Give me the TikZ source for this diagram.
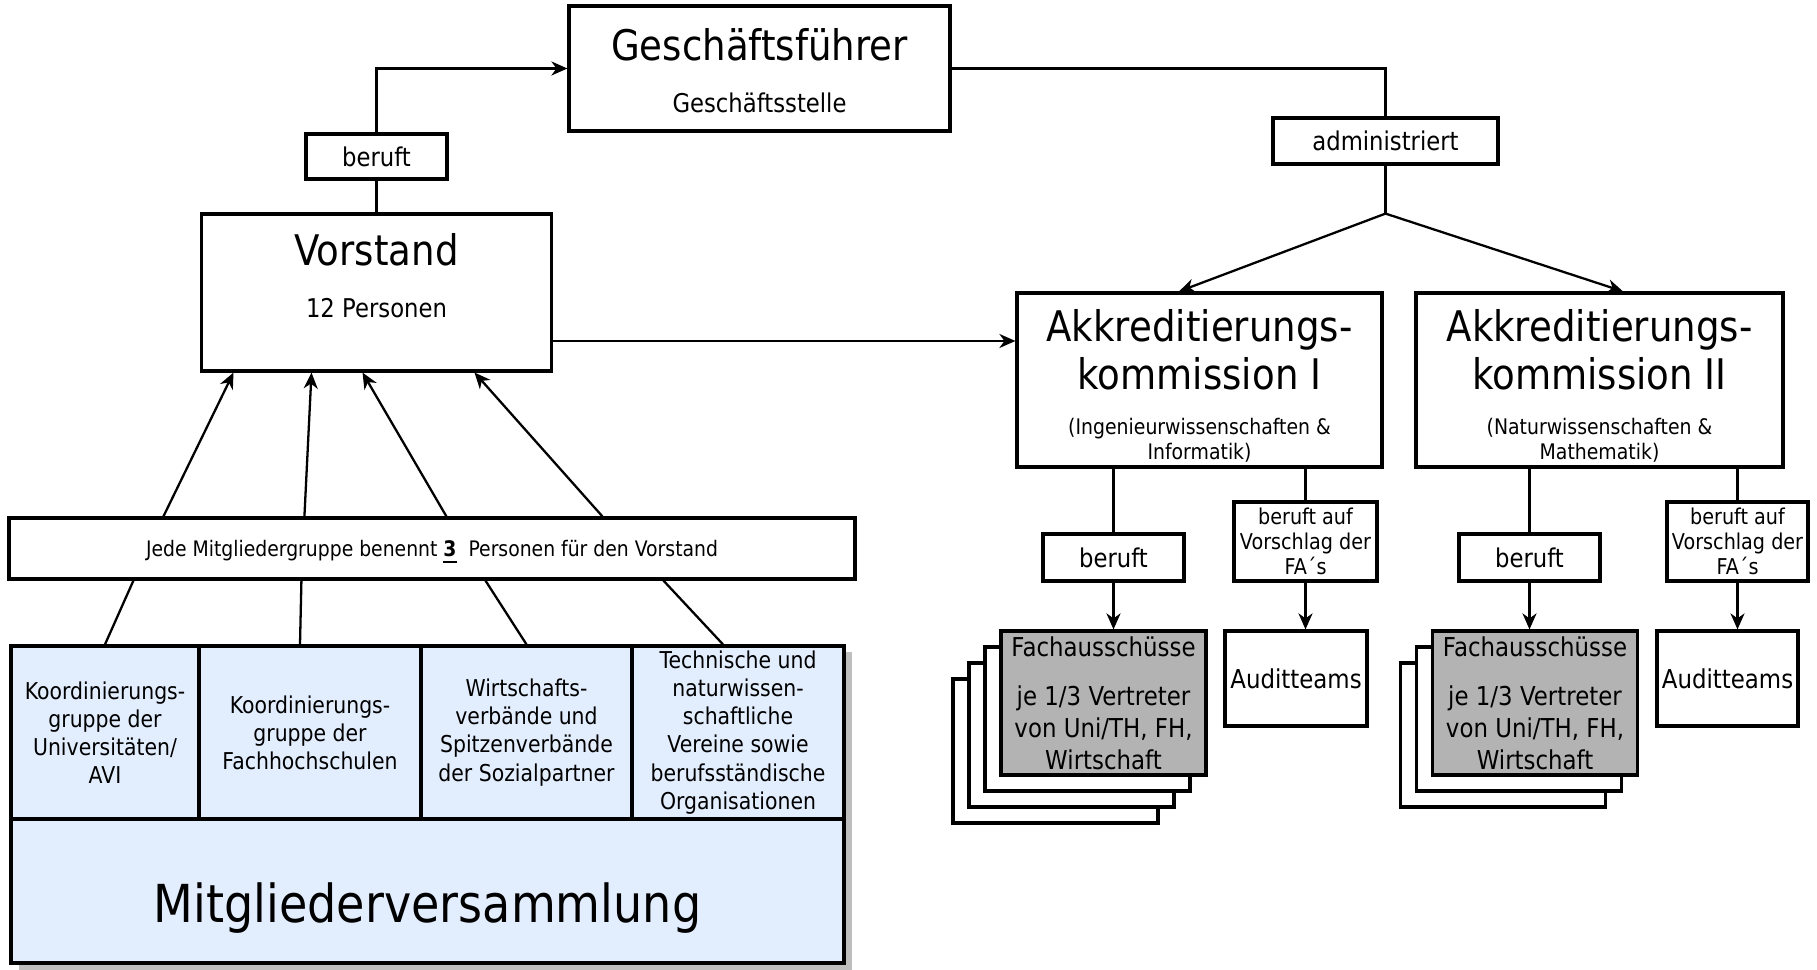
\documentclass[tikz,border=0pt]{standalone}
\usepackage{fontspec}
\setmainfont{DejaVu Sans}[FakeStretch=0.88]
\usetikzlibrary{arrows.meta,positioning}

\definecolor{mvblue}{RGB}{226,237,254}
\definecolor{fagray}{RGB}{179,179,179}
\definecolor{shadowgray}{RGB}{190,190,190}

\begin{document}
\begin{tikzpicture}[
        x=0.1mm, y=-0.1mm,
        every node/.style={inner sep=0pt, align=center},
        box/.style={rectangle, draw, line width=0.9pt, fill=white},
        actionbox/.style={box, font=\fontsize{7.35}{9.1}\selectfont},
        proposebox/.style={box, minimum height=7.9mm, font=\fontsize{6.2}{7.1}\selectfont},
        fabox/.style={box, minimum width=20.5mm, minimum height=14.4mm, font=\fontsize{7.4}{9.1}\selectfont},
        auditbox/.style={box, minimum height=9.5mm, font=\fontsize{7.4}{9.1}\selectfont},
        group/.style={box, fill=mvblue, minimum height=17.3mm, font=\fontsize{6.6}{8}\selectfont},
        headtext/.style={font=\fontsize{12}{13.7}\selectfont},
        subtext/.style={font=\fontsize{7.35}{9.1}\selectfont},
        smalltext/.style={font=\fontsize{6.1}{7.1}\selectfont},
        line/.style={line width=0.65pt},
        arrow/.style={line, -{Stealth[length=1.6mm, width=1.4mm, inset=0.5mm]}}
    ]
    \useasboundingbox (0,0) rectangle (1817,970);

    % Geschaeftsfuehrung und Vorstand
    \node[box, minimum width=38.1mm, minimum height=12.5mm] (gf) at (759.5,68.5) {};
    \node[headtext, anchor=base] (gftitle) at ([yshift=0.75mm]gf.center) {Geschäftsführer};
    \node[subtext, anchor=base] (gfsub) at ([yshift=-4.45mm]gf.center) {Geschäftsstelle};

    \node[actionbox, minimum width=14.1mm, minimum height=4.5mm] (beruft0) at (376.5,156.5) {beruft};

    \node[box, minimum width=35mm, minimum height=15.7mm] (vorstand) at (376.5,292.5) {};
    \node[headtext, anchor=base] (vorstandtitle) at ([yshift=2.65mm]vorstand.center) {Vorstand};
    \node[subtext, anchor=base] (vorstandsub) at ([yshift=-2.55mm]vorstand.center) {12 Personen};

    % Mitgliederversammlung
    \fill[shadowgray] (19,652) rectangle (852,970);
    \node[box, minimum width=84.6mm, minimum height=6.1mm, text depth=0pt, font=\fontsize{6.08}{7}\selectfont] (jede) at (432,548.5)
        {Jede Mitgliedergruppe benennt \underline{\textbf{3}}~ Personen für den Vorstand};
    \node[group, minimum width=18.8mm] (g1) at (105,732.5) {Koordinierungs-\\gruppe der\\Universitäten/\\AVI};
    \node[group, minimum width=22.2mm] (g2) at (310,732.5) {Koordinierungs-\\gruppe der\\Fachhochschulen};
    \node[group, minimum width=21.1mm] (g3) at (526.5,732.5) {Wirtschafts-\\verbände und\\Spitzenverbände\\der Sozialpartner};
    \node[group, minimum width=21.2mm] (g4) at (738,732.5) {Technische und\\naturwissen-\\schaftliche\\Vereine sowie\\berufsständische\\Organisationen};
    \node[box, fill=mvblue, minimum width=83.3mm, minimum height=14.4mm] (mv) at (427.5,891) {};
    \node[font=\fontsize{14.9}{17}\selectfont, anchor=base] (mvtitle) at ([yshift=-3.15mm]mv.center) {Mitgliederversammlung};

    % Akkreditierungskommissionen
    \node[actionbox, minimum width=22.5mm, minimum height=4.6mm] (admin) at (1385.5,141) {administriert};
    \coordinate (split) at (1385.5,213.6);

    \node[box, minimum width=36.5mm, minimum height=17.4mm] (ak1) at (1199.5,380) {};
    \node[headtext, anchor=north] (ak1title) at ([yshift=7.1mm]ak1.center) {Akkreditierungs-\\kommission I};
    \node[smalltext, anchor=north] (ak1sub) at ([yshift=-3.77mm]ak1.center) {(Ingenieurwissenschaften \&\\Informatik)};

    \node[box, minimum width=36.7mm, minimum height=17.4mm] (ak2) at (1599.5,380) {};
    \node[headtext, anchor=north] (ak2title) at ([yshift=7.1mm]ak2.center) {Akkreditierungs-\\kommission II};
    \node[smalltext, anchor=north] (ak2sub) at ([yshift=-3.77mm]ak2.center) {(Naturwissenschaften \&\\Mathematik)};

    \node[actionbox, minimum width=14.1mm, minimum height=4.7mm] (beruft1) at (1113.5,557.5) {beruft};
    \node[proposebox, minimum width=14.3mm] (vorschlag1) at (1305.5,541.5) {beruft auf\\Vorschlag der\\FA´s};
    \node[auditbox, minimum width=14.2mm] (audit1) at (1296,678.5) {Auditteams};
    \foreach \i in {3,2,1}
        \node[fabox] (fa1back\i) at (1103.5-16*\i,703+16*\i) {};
    \node[fabox, fill=fagray] (fa1) at (1103.5,703) {Fachausschüsse\\[4.8pt]je 1/3 Vertreter\\von Uni/TH, FH,\\Wirtschaft};

    \node[actionbox, minimum width=14.1mm, minimum height=4.7mm] (beruft2) at (1529.5,557.5) {beruft};
    \node[proposebox, minimum width=14.1mm] (vorschlag2) at (1737.5,541.5) {beruft auf\\Vorschlag der\\FA´s};
    \node[auditbox, minimum width=14.1mm] (audit2) at (1727.5,678.5) {Auditteams};
    \foreach \i in {2,1}
        \node[fabox] (fa2back\i) at (1535-16*\i,703+16*\i) {};
    \node[fabox, fill=fagray] (fa2) at (1535,703) {Fachausschüsse\\[4.8pt]je 1/3 Vertreter\\von Uni/TH, FH,\\Wirtschaft};

    % Verbindungen
    \draw[line] (vorstand.north) -- (beruft0.south);
    \draw[arrow] (beruft0.north) |- (gf.west);
    \draw[line] (gf.east) -| (admin.north);
    \draw[line] (admin.south) -- (split);
    \draw[arrow] (split) -- ([xshift=-2.05mm]ak1.north);
    \draw[arrow] (split) -- ([xshift=2.35mm]ak2.north);
    \coordinate (vs) at ([yshift=-4.85mm]vorstand.east);
    \draw[arrow] (vs) -- (vs -| ak1.west);

    \foreach \s/\e in {15.6/-14.3, 29.7/-6.5, 43.9/-1.4, 59.5/9.8}
        \draw[arrow] ([xshift=\s mm]jede.north west) -- ([xshift=\e mm]vorstand.south);
    \draw[line] ([xshift=12.6mm]jede.south west) -- (g1.north);
    \draw[line] ([xshift=29.4mm]jede.south west) -- ([xshift=-1mm]g2.north);
    \draw[line] ([xshift=47.8mm]jede.south west) -- (g3.north);
    \draw[line] ([xshift=65.6mm]jede.south west) -- ([xshift=-1.5mm]g4.north);

    \draw[line] (beruft1.north |- ak1.south) -- (beruft1.north);
    \draw[arrow] (beruft1.south) -- (beruft1.south |- fa1.north);
    \draw[line] (vorschlag1.north |- ak1.south) -- (vorschlag1.north);
    \draw[arrow] (vorschlag1.south) -- (vorschlag1.south |- audit1.north);
    \draw[line] (beruft2.north |- ak2.south) -- (beruft2.north);
    \draw[arrow] (beruft2.south) -- (beruft2.south |- fa2.north);
    \draw[line] (vorschlag2.north |- ak2.south) -- (vorschlag2.north);
    \draw[arrow] (vorschlag2.south) -- (vorschlag2.south |- audit2.north);
\end{tikzpicture}
\end{document}
